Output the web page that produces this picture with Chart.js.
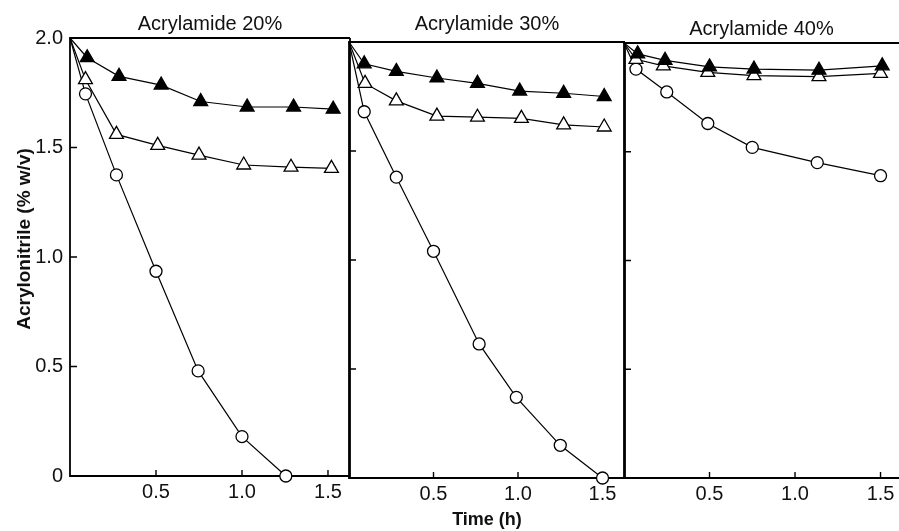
<!DOCTYPE html>
<html>
<head>
<meta charset="utf-8">
<script src="https://cdn.jsdelivr.net/npm/chart.js@4/dist/chart.umd.min.js"></script>
<style>
  html, body { margin: 0; padding: 0; background: #fff; }
  #wrap { position: relative; width: 899px; height: 531px; background: #fff; overflow: hidden; }
  .panel { position: absolute; top: 0; height: 531px; }
</style>
</head>
<body>
<div id="wrap">
  <div class="panel" id="p1" style="left:0px;width:352px;"><canvas id="c1"></canvas></div>
  <div class="panel" id="p2" style="left:339px;width:289px;"><canvas id="c2"></canvas></div>
  <div class="panel" id="p3" style="left:614px;width:285px;"><canvas id="c3"></canvas></div>
</div>
<script>
// ---- Data ----
const panelTitles = ['Acrylamide 20%', 'Acrylamide 30%', 'Acrylamide 40%'];
const yAxisTitle = 'Acrylonitrile (% w/v)';
const xAxisTitle = 'Time (h)';
const xTickValues = [0.5, 1.0, 1.5];
const yTickValues = [0, 0.5, 1.0, 1.5, 2.0];

// Acrylamide 20%
const t20Filled = [0, 0.10, 0.285, 0.53, 0.76, 1.03, 1.30, 1.53];
const y20Filled = [2.0, 1.91, 1.825, 1.785, 1.71, 1.685, 1.685, 1.675];
const t20Open   = [0, 0.09, 0.27, 0.51, 0.75, 1.01, 1.285, 1.52];
const y20Open   = [2.0, 1.81, 1.56, 1.51, 1.465, 1.42, 1.41, 1.405];
const t20Circle = [0, 0.09, 0.27, 0.50, 0.745, 1.00, 1.255];
const y20Circle = [2.0, 1.745, 1.375, 0.935, 0.48, 0.18, 0.0];

// Acrylamide 30%
const t30Filled = [0, 0.09, 0.28, 0.52, 0.76, 1.01, 1.27, 1.51];
const y30Filled = [2.0, 1.90, 1.865, 1.835, 1.81, 1.775, 1.765, 1.75];
const t30Open   = [0, 0.095, 0.28, 0.52, 0.76, 1.02, 1.27, 1.51];
const y30Open   = [2.0, 1.81, 1.73, 1.66, 1.655, 1.65, 1.62, 1.61];
const t30Circle = [0, 0.09, 0.28, 0.50, 0.77, 0.99, 1.25, 1.50];
const y30Circle = [2.0, 1.68, 1.38, 1.04, 0.615, 0.37, 0.15, 0.0];

// Acrylamide 40%
const t40Filled = [0, 0.08, 0.24, 0.50, 0.76, 1.14, 1.51];
const y40Filled = [2.0, 1.95, 1.92, 1.89, 1.88, 1.875, 1.895];
const t40Open   = [0, 0.07, 0.23, 0.49, 0.76, 1.14, 1.50];
const y40Open   = [2.0, 1.925, 1.895, 1.865, 1.85, 1.845, 1.86];
const t40Circle = [0, 0.07, 0.25, 0.49, 0.75, 1.13, 1.50];
const y40Circle = [2.0, 1.88, 1.775, 1.63, 1.52, 1.45, 1.39];

// ---- Helpers ----
const FONT = "'Liberation Sans', Arial, Helvetica, sans-serif";
const toXY = (ts, ys) => ts.map((t, i) => ({ x: t, y: ys[i] }));

function series(label, ts, ys, style) {
  const tri = style !== 'circle';
  return {
    label,
    data: toXY(ts, ys),
    borderColor: '#000',
    borderWidth: 1.2,
    tension: 0,
    fill: false,
    clip: false,
    pointStyle: tri ? 'triangle' : 'circle',
    pointRadius: (c) => c.dataIndex === 0 ? 0 : (tri ? 8 : 6),
    pointBackgroundColor: style === 'filled' ? '#000' : '#fff',
    pointBorderColor: '#000',
    pointBorderWidth: 1.3,
    pointHoverRadius: (c) => c.dataIndex === 0 ? 0 : (tri ? 8 : 6),
  };
}

const framePlugin = {
  id: 'frame',
  beforeDatasetsDraw(chart, args, opts) {
    const { ctx, chartArea: a, scales } = chart;
    const x = scales.x, y = scales.y;
    ctx.save();
    ctx.strokeStyle = '#000';
    ctx.lineWidth = 1.8;
    ctx.beginPath();
    ctx.moveTo(a.right, a.top);
    ctx.lineTo(a.left, a.top);
    ctx.lineTo(a.left, a.bottom);
    ctx.lineTo(a.right, a.bottom);
    if (opts.right) ctx.lineTo(a.right, a.top);
    ctx.stroke();
    // inward tick marks
    ctx.lineWidth = 1.4;
    ctx.beginPath();
    xTickValues.forEach(v => {
      const px = x.getPixelForValue(v);
      ctx.moveTo(px, a.bottom);
      ctx.lineTo(px, a.bottom - 6);
    });
    [0.5, 1.0, 1.5].forEach(v => {
      const py = y.getPixelForValue(v);
      ctx.moveTo(a.left, py);
      ctx.lineTo(a.left + 7, py);
    });
    ctx.stroke();
    ctx.restore();
  }
};

const yTitlePlugin = {
  id: 'ytitle',
  afterDraw(chart, args, opts) {
    if (!opts.text) return;
    const { ctx } = chart;
    ctx.save();
    ctx.translate(opts.x, opts.y);
    ctx.rotate(-Math.PI / 2);
    ctx.font = 'bold 19px ' + FONT;
    ctx.fillStyle = '#111';
    ctx.textAlign = 'center';
    ctx.textBaseline = 'middle';
    ctx.fillText(opts.text, 0, 0);
    ctx.restore();
  }
};

function makeChart(id, cfg) {
  const showYLabels = cfg.showYLabels;
  return new Chart(document.getElementById(id), {
    type: 'line',
    data: { datasets: cfg.datasets },
    plugins: [framePlugin, yTitlePlugin],
    options: {
      responsive: true,
      maintainAspectRatio: false,
      animation: false,
      events: [],
      layout: { autoPadding: false, padding: { left: 0, right: cfg.padRight, top: 0, bottom: 0 } },
      plugins: {
        legend: { display: false },
        tooltip: { enabled: false },
        title: {
          display: true,
          text: cfg.title,
          fullSize: false,
          color: '#111',
          font: { family: FONT, size: 20, weight: 'normal', lineHeight: 1.2 },
          padding: { top: cfg.titleTop, bottom: cfg.titleBottom }
        },
        frame: { right: cfg.rightBorder },
        ytitle: cfg.yTitle ? { text: cfg.yTitle, x: 25, y: 239 } : { text: '' }
      },
      scales: {
        x: {
          type: 'linear',
          min: 0,
          max: cfg.xMax,
          afterBuildTicks: (s) => { s.ticks = xTickValues.map(v => ({ value: v })); },
          afterFit: (s) => { s.height = cfg.xHeight; },
          grid: { display: false, drawTicks: false },
          border: { display: false },
          ticks: {
            color: '#111',
            padding: 4,
            maxRotation: 0,
            autoSkip: false,
            font: { family: FONT, size: 20 },
            callback: (v) => Number(v).toFixed(1)
          },
          title: cfg.xTitle ? {
            display: true,
            text: cfg.xTitle,
            color: '#111',
            font: { family: FONT, size: 18, weight: 'bold', lineHeight: 1.2 },
            padding: { top: 0, bottom: 0 }
          } : { display: false }
        },
        y: {
          type: 'linear',
          min: 0,
          max: 2.0,
          afterBuildTicks: (s) => { s.ticks = yTickValues.map(v => ({ value: v })); },
          afterFit: (s) => { s.width = cfg.yWidth; },
          grid: { display: false, drawTicks: false },
          border: { display: false },
          ticks: {
            display: showYLabels,
            color: '#111',
            padding: 7,
            font: { family: FONT, size: 20 },
            callback: (v) => v === 0 ? '0' : Number(v).toFixed(1)
          }
        }
      }
    }
  });
}

makeChart('c1', {
  title: panelTitles[0], titleTop: 12, titleBottom: 2,
  padRight: 2, yWidth: 70, xHeight: 55, xMax: 1.628,
  showYLabels: true, yTitle: yAxisTitle, rightBorder: true,
  datasets: [
    series('Filled triangles', t20Filled, y20Filled, 'filled'),
    series('Open triangles', t20Open, y20Open, 'open'),
    series('Open circles', t20Circle, y20Circle, 'circle')
  ]
});

makeChart('c2', {
  title: panelTitles[1], titleTop: 12, titleBottom: 6,
  padRight: 3, yWidth: 10, xHeight: 53, xMax: 1.633,
  showYLabels: false, xTitle: xAxisTitle, rightBorder: true,
  datasets: [
    series('Filled triangles', t30Filled, y30Filled, 'filled'),
    series('Open triangles', t30Open, y30Open, 'open'),
    series('Open circles', t30Circle, y30Circle, 'circle')
  ]
});

makeChart('c3', {
  title: panelTitles[2], titleTop: 17, titleBottom: 2,
  padRight: 0, yWidth: 10, xHeight: 53, xMax: 1.608,
  showYLabels: false, rightBorder: false,
  datasets: [
    series('Filled triangles', t40Filled, y40Filled, 'filled'),
    series('Open triangles', t40Open, y40Open, 'open'),
    series('Open circles', t40Circle, y40Circle, 'circle')
  ]
});
</script>
</body>
</html>
